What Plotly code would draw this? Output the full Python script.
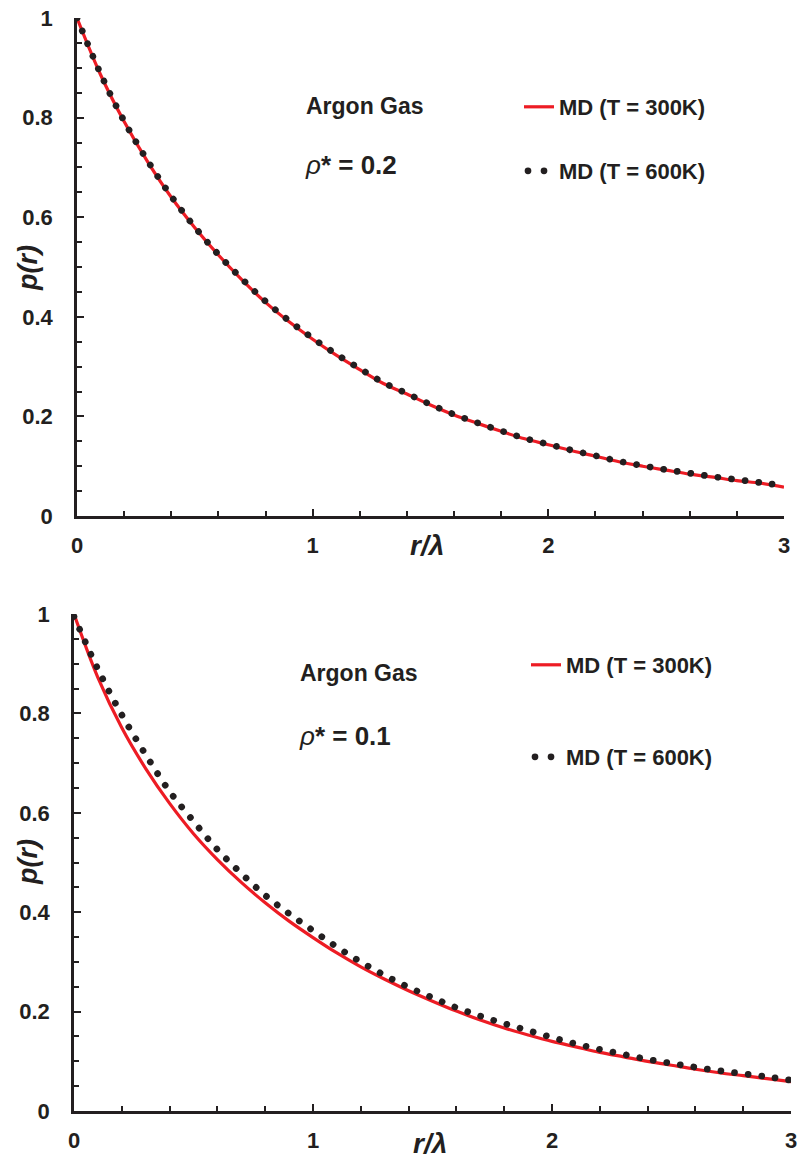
import plotly.graph_objects as go

# ---------------- data ----------------
r = [0.0, 0.1, 0.2, 0.3, 0.4, 0.5, 0.6, 0.7, 0.8, 0.9, 1.0,
     1.1, 1.2, 1.3, 1.4, 1.5, 1.6, 1.7, 1.8, 1.9, 2.0,
     2.1, 2.2, 2.3, 2.4, 2.5, 2.6, 2.7, 2.8, 2.9, 3.0]

top_300 = [1.000, 0.886, 0.792, 0.711, 0.640, 0.579, 0.524, 0.474, 0.429, 0.390, 0.355,
           0.323, 0.294, 0.266, 0.245, 0.223, 0.203, 0.186, 0.170, 0.155, 0.143,
           0.131, 0.120, 0.109, 0.100, 0.092, 0.084, 0.078, 0.071, 0.066, 0.058]
top_600 = [1.000, 0.888, 0.793, 0.713, 0.642, 0.580, 0.525, 0.476, 0.431, 0.392, 0.357,
           0.325, 0.296, 0.268, 0.246, 0.224, 0.204, 0.187, 0.171, 0.156, 0.144,
           0.132, 0.121, 0.110, 0.101, 0.093, 0.086, 0.079, 0.073, 0.067, 0.061]

bot_300 = [1.000, 0.872, 0.771, 0.689, 0.619, 0.558, 0.506, 0.460, 0.419, 0.382, 0.349,
           0.318, 0.290, 0.265, 0.242, 0.221, 0.201, 0.183, 0.167, 0.153, 0.140,
           0.129, 0.118, 0.109, 0.100, 0.092, 0.084, 0.077, 0.071, 0.065, 0.059]
bot_600 = [0.995, 0.889, 0.797, 0.717, 0.643, 0.583, 0.526, 0.478, 0.434, 0.397, 0.363,
           0.330, 0.300, 0.273, 0.249, 0.228, 0.208, 0.191, 0.176, 0.162, 0.148,
           0.135, 0.124, 0.114, 0.104, 0.096, 0.088, 0.081, 0.075, 0.069, 0.062]

series_names = ["MD (T = 300K)", "MD (T = 600K)"]
panel_texts = ["ρ* = 0.2", "ρ* = 0.1"]
gas_label = "Argon Gas"
x_ticks = [0, 1, 2, 3]
y_ticks = [0, 0.2, 0.4, 0.6, 0.8, 1]

# ---------------- styling ----------------
W, H = 801, 1160
RED = "#ed1c24"
DARK = "#231f20"
FONT = "Liberation Sans"


def px(x):
    return x / W


def py(y):
    return 1 - y / H


fig = go.Figure()

panels = [
    dict(xa="x", ya="y", d300=top_300, d600=top_600, lg=("legend", "legend2")),
    dict(xa="x2", ya="y2", d300=bot_300, d600=bot_600, lg=("legend3", "legend4")),
]
for p in panels:
    fig.add_trace(go.Scatter(
        x=r, y=p["d300"], mode="lines", name=series_names[0],
        line=dict(color=RED, width=3.2, shape="spline", smoothing=1),
        xaxis=p["xa"], yaxis=p["ya"], legend=p["lg"][0], hoverinfo="skip",
        cliponaxis=False))
    fig.add_trace(go.Scatter(
        x=r, y=p["d600"], mode="lines", name=series_names[1],
        line=dict(color=DARK, width=6.7, dash="6px,7.7px", shape="spline", smoothing=1),
        xaxis=p["xa"], yaxis=p["ya"], legend=p["lg"][1], hoverinfo="skip",
        cliponaxis=False))

tickfont = dict(family=FONT, size=22, color=DARK, weight="bold")


def xaxis(domain, anchor):
    return dict(domain=domain, anchor=anchor, range=[0, 3], tickvals=x_ticks,
                ticks="inside", ticklen=7, tickwidth=2, tickcolor=DARK,
                minor=dict(dtick=0.2, ticks="inside", ticklen=5, tickwidth=1.6, tickcolor=DARK),
                showline=True, linewidth=2.6, linecolor=DARK, showgrid=False,
                zeroline=False, tickfont=tickfont, ticklabelstandoff=8,
                ticklabeloverflow="allow", fixedrange=True, automargin=False)


def yaxis(domain, anchor):
    return dict(domain=domain, anchor=anchor, range=[0, 1], tickvals=y_ticks,
                ticks="inside", ticklen=7, tickwidth=2, tickcolor=DARK,
                minor=dict(dtick=0.05, ticks="inside", ticklen=5, tickwidth=1.6, tickcolor=DARK),
                showline=True, linewidth=2.6, linecolor=DARK, showgrid=False,
                zeroline=False, tickfont=tickfont, ticklabelstandoff=17,
                ticklabeloverflow="allow", fixedrange=True, automargin=False)


legfont = dict(family=FONT, size=22, color=DARK, weight="bold")


def leg(x, y):
    return dict(x=px(x), y=py(y), xanchor="left", yanchor="middle",
                bgcolor="rgba(0,0,0,0)", font=legfont, borderwidth=0)


def ann(text, x, y, size=22, angle=0, xanchor="left"):
    return dict(text=text, x=px(x), y=py(y), xref="paper", yref="paper",
                xanchor=xanchor, yanchor="middle", showarrow=False, textangle=angle,
                font=dict(family=FONT, size=size, color=DARK))


annotations = [
    ann("<b>%s</b>" % gas_label, 304, 106, size=23),
    ann("<i>ρ</i><b>%s</b>" % panel_texts[0][1:], 303, 165, size=26),
    ann("<b><i>p(r)</i></b>", 28, 268, size=27, angle=-90, xanchor="center"),
    ann("<b><i>r/λ</i></b>", 427, 545, size=28, xanchor="center"),
    ann("<b>%s</b>" % gas_label, 298, 673, size=23),
    ann("<i>ρ</i><b>%s</b>" % panel_texts[1][1:], 297, 736, size=26),
    ann("<b><i>p(r)</i></b>", 28, 862, size=27, angle=-90, xanchor="center"),
    ann("<b><i>r/λ</i></b>", 430, 1143, size=28, xanchor="center"),
]

fig.update_layout(
    width=W, height=H, margin=dict(l=0, r=0, t=0, b=0, autoexpand=False),
    paper_bgcolor="white", plot_bgcolor="white", showlegend=True,
    xaxis=xaxis([px(77), px(784)], "y"),
    yaxis=yaxis([py(516), py(18)], "x"),
    xaxis2=xaxis([px(74), px(791)], "y2"),
    yaxis2=yaxis([py(1111), py(614)], "x2"),
    legend=leg(519, 107), legend2=leg(519, 171),
    legend3=leg(526, 665), legend4=leg(526, 757),
    annotations=annotations,
)

post = """
document.querySelectorAll('.scatterlayer path.js-line').forEach(function(p){
  var d = p.style.strokeDasharray;
  if (d && d !== 'none') { p.style.strokeLinecap = 'round'; p.style.strokeDasharray = '0.01px 13.7px'; }
});
document.querySelectorAll('.legendlines path').forEach(function(p){
  var d = p.style.strokeDasharray;
  if (d && d !== 'none') { p.style.strokeLinecap = 'round'; p.style.strokeDasharray = '0.01px 16px'; p.style.strokeDashoffset = '-4px'; }
});
"""

fig.write_html("out.html", config={"displayModeBar": False}, post_script=post)
